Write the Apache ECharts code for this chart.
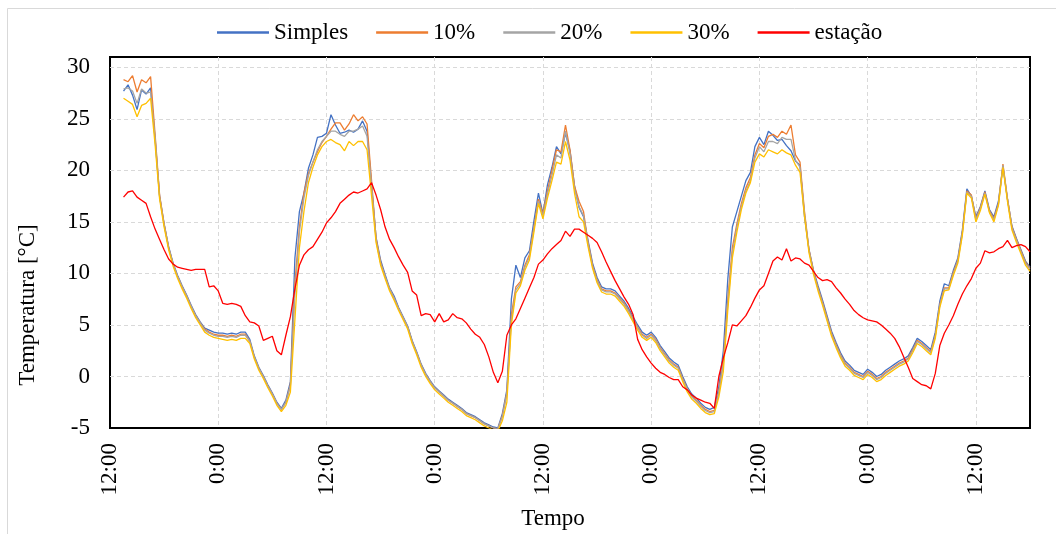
<!DOCTYPE html>
<html><head><meta charset="utf-8">
<script src="https://cdn.jsdelivr.net/npm/echarts@6/dist/echarts.min.js"></script>
<style>html,body{margin:0;padding:0;background:#fff}#c{width:1056px;height:534px}</style>
</head><body><div id="c"></div>
<script>
// sample times: hours after the first 12:00 tick, every 0.5 h from 1.5 h
const startHour = 1.5, stepHour = 0.5;
const seriesNames = ['Simples', '10%', '20%', '30%', 'estação'];
const yTicks = [-5, 0, 5, 10, 15, 20, 25, 30];
const xTickLabels = ['12:00', '0:00'];

const simples = [
27.7,28.3,27.3,25.9,27.8,27.4,28.0,23.0,17.5,14.8,
12.6,11.0,9.8,8.8,7.9,6.9,6.0,5.3,4.7,4.5,
4.3,4.2,4.2,4.1,4.2,4.1,4.3,4.3,3.6,2.0,
0.9,0.1,-0.8,-1.6,-2.5,-3.1,-2.3,-0.5,11.5,16.0,
17.8,20.2,21.5,23.2,23.3,23.6,25.4,24.4,23.6,23.7,
23.9,23.7,24.0,24.8,23.8,18.5,13.5,11.3,9.9,8.6,
7.8,6.7,5.8,4.9,3.5,2.4,1.2,0.3,-0.4,-1.0,
-1.4,-1.8,-2.2,-2.5,-2.8,-3.1,-3.5,-3.7,-3.9,-4.2,
-4.5,-4.7,-4.9,-5.0,-3.6,-1.3,7.5,10.8,9.6,11.5,
12.2,15.1,17.8,15.8,18.6,20.3,22.3,21.6,23.6,21.9,
18.5,16.4,15.5,13.2,11.0,9.6,8.7,8.5,8.5,8.3,
7.8,7.3,6.6,5.8,5.0,4.3,4.0,4.3,3.8,3.0,
2.4,1.8,1.4,1.1,0.0,-1.0,-1.7,-2.1,-2.6,-3.0,
-3.2,-3.0,-1.0,2.5,9.5,14.5,16.0,17.5,19.0,19.8,
22.3,23.2,22.5,23.8,23.4,22.9,23.0,22.4,21.9,20.9,
20.5,15.5,12.3,10.3,8.8,7.4,5.9,4.4,3.3,2.3,
1.5,1.1,0.6,0.4,0.2,0.7,0.4,0.0,0.2,0.6,
0.9,1.2,1.5,1.7,2.0,2.8,3.7,3.4,3.0,2.6,
4.3,7.3,9.0,8.8,10.3,11.5,14.2,18.2,17.5,15.5,
16.5,18.0,16.2,15.5,17.0,20.4,17.2,14.6,13.4,12.3,
11.2,10.6];

const p10 = [
28.8,28.6,29.2,27.6,28.8,28.5,29.1,23.5,17.6,14.8,
12.5,10.9,9.7,8.7,7.8,6.8,5.9,5.2,4.6,4.3,
4.1,4.0,4.0,3.9,4.0,3.9,4.1,4.1,3.4,1.9,
0.8,0.0,-0.9,-1.7,-2.6,-3.2,-2.5,-0.8,9.0,14.5,
17.8,19.7,20.8,21.8,22.7,23.3,24.0,24.6,24.6,23.9,
24.5,25.4,24.8,25.2,24.5,19.0,13.4,11.1,9.7,8.5,
7.6,6.6,5.7,4.8,3.4,2.3,1.1,0.2,-0.5,-1.1,
-1.5,-1.9,-2.3,-2.6,-2.9,-3.2,-3.6,-3.8,-4.0,-4.3,
-4.6,-4.8,-5.0,-5.1,-3.8,-1.6,6.0,8.7,9.2,10.8,
11.8,14.5,17.2,15.8,18.0,20.0,22.0,21.8,24.4,22.0,
18.5,17.0,16.0,13.0,10.8,9.4,8.5,8.3,8.3,8.1,
7.6,7.1,6.4,5.6,4.8,4.1,3.8,4.1,3.6,2.8,
2.2,1.6,1.2,0.9,-0.2,-1.2,-1.9,-2.3,-2.8,-3.2,
-3.4,-3.3,-1.5,1.5,7.5,12.5,14.8,16.8,18.3,19.3,
21.5,22.6,22.2,23.3,23.5,23.2,23.8,23.5,24.4,21.5,
20.8,16.0,12.3,10.2,8.6,7.2,5.7,4.2,3.1,2.1,
1.3,0.9,0.4,0.2,0.0,0.5,0.2,-0.2,0.0,0.4,
0.7,1.0,1.3,1.5,1.8,2.6,3.5,3.2,2.8,2.4,
4.0,7.0,8.6,8.6,10.1,11.3,14.0,18.0,17.6,15.3,
16.4,17.9,16.1,15.3,16.8,20.6,17.3,14.5,13.3,12.2,
11.1,10.5];

const p20 = [
27.9,28.0,27.7,26.5,27.9,27.5,27.6,23.2,17.4,14.7,
12.5,10.9,9.7,8.7,7.8,6.8,5.9,5.2,4.5,4.2,
4.0,3.9,3.9,3.8,3.9,3.8,4.0,4.0,3.4,1.9,
0.8,0.0,-0.9,-1.7,-2.6,-3.2,-2.5,-0.9,8.0,14.0,
17.3,19.5,20.8,22.0,22.8,23.3,23.8,23.8,23.5,23.3,
23.8,23.8,24.0,24.3,23.3,18.5,13.2,11.0,9.7,8.5,
7.6,6.6,5.7,4.8,3.4,2.3,1.1,0.2,-0.5,-1.1,
-1.5,-1.9,-2.3,-2.6,-2.9,-3.2,-3.6,-3.8,-4.0,-4.3,
-4.6,-4.8,-5.0,-5.1,-3.9,-1.7,5.5,8.4,9.0,10.6,
11.6,14.3,17.0,15.6,17.7,19.5,21.5,21.2,23.8,21.6,
18.2,16.5,15.6,12.9,10.7,9.3,8.4,8.2,8.2,8.0,
7.5,7.0,6.3,5.5,4.7,4.0,3.7,4.0,3.5,2.7,
2.1,1.5,1.1,0.8,-0.3,-1.3,-2.0,-2.4,-2.9,-3.3,
-3.5,-3.4,-1.6,1.2,7.0,12.0,14.5,16.5,18.0,19.0,
21.2,22.3,21.8,22.8,22.8,22.6,23.2,23.0,23.0,21.0,
20.3,15.8,12.2,10.1,8.5,7.1,5.6,4.1,3.0,2.0,
1.2,0.8,0.3,0.1,-0.1,0.4,0.1,-0.3,-0.1,0.3,
0.6,0.9,1.2,1.4,1.7,2.5,3.4,3.1,2.7,2.3,
3.9,6.9,8.5,8.5,10.0,11.2,13.9,17.9,17.5,15.2,
16.3,17.8,16.0,15.2,16.7,20.5,17.2,14.4,13.2,12.1,
11.0,10.4];

const p30 = [
27.0,26.7,26.4,25.2,26.3,26.5,27.0,22.5,17.2,14.5,
12.3,10.7,9.5,8.5,7.6,6.6,5.7,5.0,4.3,4.0,
3.8,3.7,3.6,3.5,3.6,3.5,3.7,3.7,3.2,1.7,
0.6,-0.2,-1.1,-1.9,-2.8,-3.4,-2.8,-1.5,5.5,12.5,
16.0,18.8,20.3,21.5,22.3,22.8,23.0,22.7,22.5,21.9,
22.8,22.4,22.8,22.8,22.0,17.5,13.0,10.8,9.5,8.3,
7.4,6.4,5.5,4.6,3.2,2.1,0.9,0.0,-0.7,-1.3,
-1.7,-2.1,-2.5,-2.8,-3.1,-3.4,-3.8,-4.0,-4.2,-4.5,
-4.8,-5.0,-5.2,-5.3,-4.3,-2.5,5.0,8.1,8.8,10.3,
11.3,14.0,16.8,15.3,17.3,19.0,20.8,20.6,22.8,21.0,
17.8,15.5,15.0,12.6,10.5,9.1,8.2,8.0,8.0,7.8,
7.3,6.8,6.1,5.3,4.5,3.8,3.5,3.8,3.3,2.5,
1.9,1.3,0.9,0.6,-0.5,-1.5,-2.2,-2.6,-3.1,-3.5,
-3.7,-3.6,-2.0,0.5,6.5,11.5,14.0,16.2,17.8,18.8,
20.8,21.6,21.3,22.0,21.8,21.6,22.0,21.7,21.5,20.5,
19.8,15.5,12.0,9.9,8.3,6.9,5.4,3.9,2.8,1.8,
1.0,0.6,0.1,-0.1,-0.3,0.2,-0.1,-0.5,-0.3,0.1,
0.4,0.7,1.0,1.2,1.5,2.3,3.2,2.9,2.5,2.1,
3.7,6.7,8.3,8.4,9.8,11.0,13.7,17.8,17.3,15.0,
16.1,17.7,15.9,15.0,16.6,20.3,17.0,14.2,13.0,11.9,
10.8,10.2];

const estacao = [
17.4,17.9,18.0,17.4,17.1,16.8,15.5,14.3,13.3,12.3,
11.4,10.9,10.6,10.5,10.4,10.3,10.4,10.4,10.4,8.7,
8.8,8.3,7.1,7.0,7.1,7.0,6.8,5.9,5.3,5.2,
4.9,3.5,3.7,3.9,2.5,2.1,4.0,5.8,8.5,10.8,
11.8,12.3,12.6,13.3,14.0,14.9,15.4,16.0,16.8,17.2,
17.6,17.9,17.8,18.0,18.2,18.8,17.6,16.2,14.5,13.3,
12.5,11.6,10.8,10.1,8.3,7.9,5.9,6.1,6.0,5.3,
6.1,5.3,5.5,6.1,5.7,5.6,5.2,4.6,4.1,3.8,
3.1,1.9,0.4,-0.6,0.5,4.0,5.0,5.6,6.6,7.6,
8.6,9.6,10.9,11.3,11.9,12.4,12.8,13.2,14.1,13.6,
14.3,14.3,14.0,13.7,13.4,13.0,12.1,11.1,10.2,9.3,
8.5,7.7,7.0,6.0,3.6,2.6,1.9,1.3,0.8,0.4,
0.2,-0.1,-0.3,-0.3,-1.0,-1.3,-1.8,-2.1,-2.3,-2.5,
-2.6,-3.1,0.0,1.8,3.3,5.0,4.9,5.4,5.9,6.7,
7.6,8.4,8.8,10.0,11.2,11.6,11.3,12.4,11.2,11.5,
11.4,11.0,10.8,10.2,9.6,9.3,9.4,9.2,8.6,8.1,
7.5,7.0,6.4,6.0,5.7,5.5,5.4,5.3,5.0,4.6,
4.2,3.7,2.9,1.9,0.9,-0.2,-0.5,-0.8,-0.9,-1.2,
0.3,3.0,4.2,5.0,5.9,7.0,8.0,8.8,9.5,10.5,
11.0,12.2,12.0,12.1,12.4,12.6,13.2,12.5,12.7,12.8,
12.6,12.1];

const hours = simples.map((_, i) => startHour + i * stepHour);
const allValues = [simples, p10, p20, p30, estacao];
const colors = ['#4472C4', '#ED7D31', '#A5A5A5', '#FFC000', '#FF0000'];
const FONT = "'Liberation Serif', 'Times New Roman', serif";

const chart = echarts.init(document.getElementById('c'), null, {renderer: 'canvas'});
chart.setOption({
  backgroundColor: '#fff',
  animation: false,
  color: colors,
  legend: {
    top: 16, left: 212,
    icon: 'rect', itemWidth: 52, itemHeight: 2.5, itemGap: 28,
    textStyle: {fontFamily: FONT, fontSize: 23, color: '#000'},
    data: seriesNames
  },
  grid: {left: 110, right: 26, top: 57, bottom: 106, show: true,
    borderColor: '#000', borderWidth: 2, backgroundColor: 'transparent'},
  xAxis: {
    type: 'value', min: 0, max: 102, interval: 12,
    axisLine: {show: false}, axisTick: {show: false},
    splitLine: {show: true, showMinLine: false, showMaxLine: false,
      lineStyle: {color: '#d9d9d9', type: [4, 3], width: 1}},
    axisLabel: {rotate: 90, margin: 15, fontFamily: FONT, fontSize: 23, color: '#000',
      showMaxLabel: false,
      formatter: v => (v % 24 === 0 ? xTickLabels[0] : (v % 12 === 0 ? xTickLabels[1] : ''))}
  },
  yAxis: {
    type: 'value', min: yTicks[0], max: 31, interval: 5,
    axisLine: {show: false}, axisTick: {show: false},
    splitLine: {show: true, showMinLine: false, showMaxLine: false,
      lineStyle: {color: '#d9d9d9', type: [4, 3], width: 1}},
    axisLabel: {margin: 20, fontFamily: FONT, fontSize: 23, color: '#000',
      showMaxLabel: false,
      formatter: v => (yTicks.indexOf(v) >= 0 ? String(v) : '')}
  },
  graphic: [
    {type: 'rect', silent: true, z: -10, shape: {x: 7.5, y: 8.5, width: 1200, height: 700},
      style: {fill: 'none', stroke: '#d9d9d9', lineWidth: 1}},
    {type: 'text', x: 28, y: 305, rotation: Math.PI / 2,
      style: {text: 'Temperatura [°C]', font: "23px 'Liberation Serif', serif", fill: '#000',
        align: 'center', verticalAlign: 'middle'}},
    {type: 'text', x: 553, y: 519,
      style: {text: 'Tempo', font: "23px 'Liberation Serif', serif", fill: '#000',
        align: 'center', verticalAlign: 'middle'}}
  ],
  series: seriesNames.map((name, k) => ({
    name, type: 'line', symbol: 'none', clip: true,
    lineStyle: {width: 1.3, color: colors[k]},
    data: hours.map((h, i) => [h, allValues[k][i]])
  }))
});
</script></body></html>
